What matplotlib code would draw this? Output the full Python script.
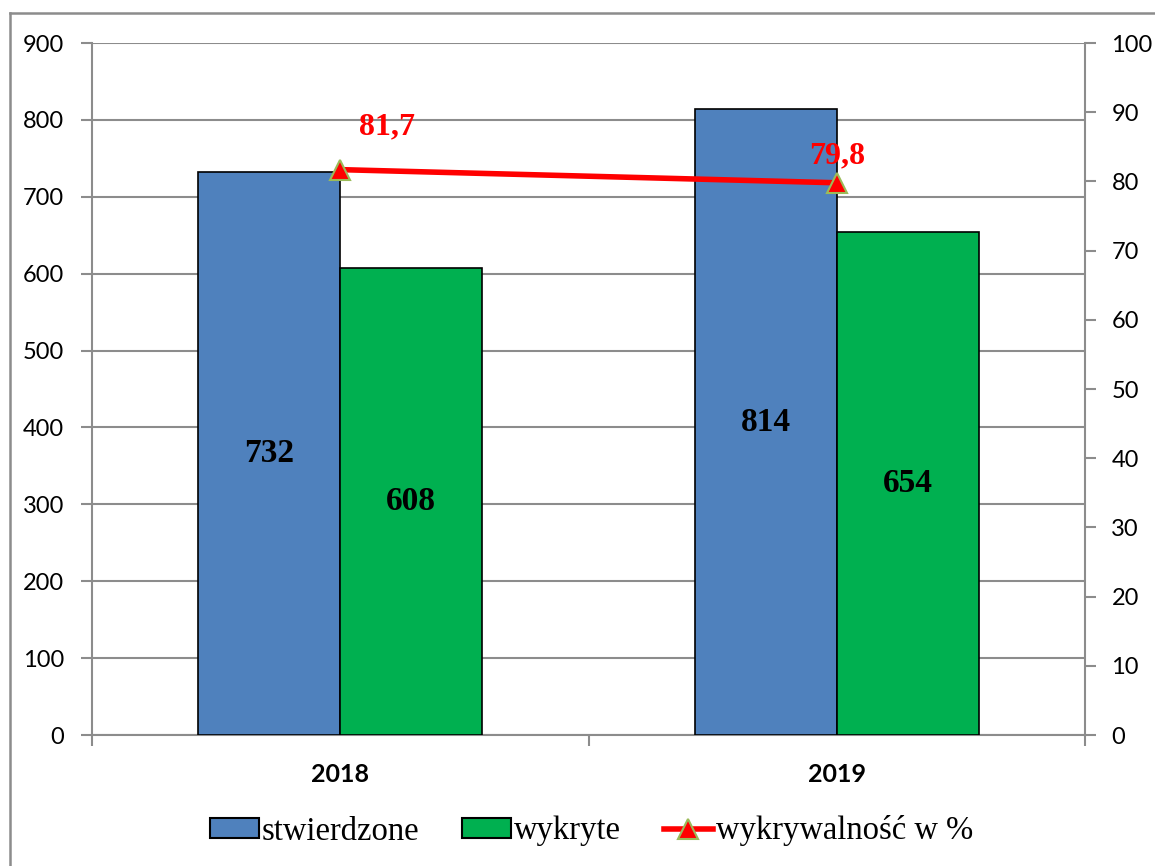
import matplotlib
matplotlib.use("Agg")
import matplotlib.pyplot as plt
import numpy as np
from matplotlib.lines import Line2D
from matplotlib.patches import Patch

years = ["2018", "2019"]
stwierdzone = [732, 814]
wykryte = [608, 654]
wykrywalnosc = [81.7, 79.8]
wykr_labels = ["81,7", "79,8"]
left_ticks = list(range(0, 901, 100))
right_ticks = list(range(0, 101, 10))

BLUE = "#4F81BD"
GREEN = "#00B050"
RED = "#FF0000"
GRAY = "#8C8C8C"

fig = plt.figure(figsize=(11.55, 8.66), dpi=100)
ax = fig.add_axes([92/1155, 131/866, (1085-92)/1155, (735-43)/866])

# outer border
fig.add_artist(Line2D([10/1155, 10/1155], [0, 853/866], color=GRAY, lw=1.8, transform=fig.transFigure))
fig.add_artist(Line2D([10/1155, 1.0], [853/866, 853/866], color=GRAY, lw=1.8, transform=fig.transFigure))

x = np.arange(len(years))
w = 0.286
ax.bar(x - w/2, stwierdzone, w, color=BLUE, edgecolor="black", linewidth=1.2, zorder=3)
ax.bar(x + w/2, wykryte, w, color=GREEN, edgecolor="black", linewidth=1.2, zorder=3)

for xi, v in zip(x - w/2, stwierdzone):
    ax.text(xi, v/2, str(v), ha="center", va="center", fontsize=24, fontweight="bold",
            family="Liberation Serif", zorder=5)
for xi, v in zip(x + w/2, wykryte):
    ax.text(xi, v/2, str(v), ha="center", va="center", fontsize=24, fontweight="bold",
            family="Liberation Serif", zorder=5)

ax.set_xlim(-0.5, 1.5)
ax.set_ylim(0, 900)
ax.set_yticks(left_ticks)
ax.set_xticks(x)
ax.set_xticklabels(years, fontsize=18, fontweight="bold", family="Lato")
ax.set_xticks([-0.5, 0.5, 1.5], minor=True)
ax.tick_params(axis="x", which="major", length=0, pad=20)
ax.tick_params(axis="x", which="minor", length=8, width=1.5, color=GRAY, direction="out")
ax.tick_params(axis="y", length=8, width=1.5, color=GRAY, pad=12, labelsize=17)
for lab in ax.get_yticklabels():
    lab.set_family("Lato")
ax.grid(axis="y", color=GRAY, lw=1.5, zorder=0)
ax.set_axisbelow(True)
for s in ["top", "right"]:
    ax.spines[s].set_visible(False)
for s in ["left", "bottom"]:
    ax.spines[s].set_color(GRAY)
    ax.spines[s].set_linewidth(1.5)

ax2 = ax.twinx()
ax2.set_ylim(0, 100)
ax2.set_yticks(right_ticks)
ax2.tick_params(axis="y", length=8, width=1.5, color=GRAY, pad=11, labelsize=17)
for lab in ax2.get_yticklabels():
    lab.set_family("Lato")
for s in ["top", "left", "bottom"]:
    ax2.spines[s].set_visible(False)
ax2.spines["right"].set_color(GRAY)
ax2.spines["right"].set_linewidth(1.5)

ax2.plot(x, wykrywalnosc, color=RED, lw=4, marker="^", markersize=14,
         markerfacecolor=RED, markeredgecolor="#9BBB59", markeredgewidth=1.5, zorder=6)
offsets = [(34, 31), (0, 19)]
for xi, v, lab, off in zip(x, wykrywalnosc, wykr_labels, offsets):
    ax2.annotate(lab, (xi, v), xytext=off, textcoords="offset points", ha="center", va="center",
                 fontsize=23, fontweight="bold", color=RED, family="Liberation Serif", zorder=7)

handles = [Patch(facecolor=BLUE, edgecolor="black", linewidth=1.5),
           Patch(facecolor=GREEN, edgecolor="black", linewidth=1.5),
           Line2D([], [], color=RED, lw=4, marker="^", markersize=14, markerfacecolor=RED,
                  markeredgecolor="#9BBB59", markeredgewidth=1.5)]
fig.legend(handles, ["stwierdzone", "wykryte", "wykrywalność w %"], loc="center",
           bbox_to_anchor=(0.512, 35/866), ncol=3, frameon=False,
           prop={"family": "Liberation Serif", "size": 23.5},
           handlelength=1.5, handleheight=0.55, handletextpad=0.1, columnspacing=1.3)

fig.savefig("out.png", dpi=100)
